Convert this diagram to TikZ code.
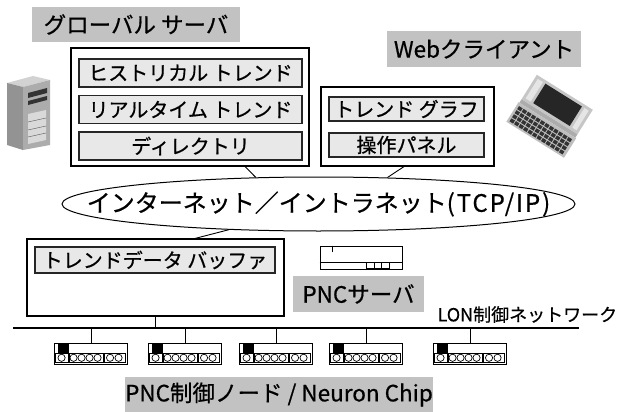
\documentclass[tikz,border=0pt]{standalone}
\usepackage{fontspec}
\setmainfont{Noto Sans CJK JP}[FakeBold=0.6]
\usepackage{xcolor}
\usepackage{tikz}
\usetikzlibrary{shapes.geometric}

\definecolor{taggray}{gray}{0.76}
\definecolor{entrygray}{gray}{0.91}

\newcommand{\tagfont}{\fontsize{22.5}{24}\selectfont}
\newcommand{\entryfont}{\fontsize{20}{22}\selectfont}
\newcommand{\netfont}{\fontsize{24}{26}\selectfont}
\newcommand{\busfont}{\fontsize{18}{20}\selectfont}

\begin{document}
\begin{tikzpicture}[
    x=1pt, y=-1pt,
    tag/.style={rectangle, fill=taggray, inner sep=0pt, minimum height=35pt, font=\tagfont},
    group/.style={rectangle, draw, line width=1.1pt, fill=white, inner sep=0pt},
    entry/.style={rectangle, draw=black!85, line width=1.3pt, fill=entrygray, inner sep=0pt, font=\entryfont},
    link/.style={line width=0.9pt},
    devbox/.style={rectangle, draw, line width=0.9pt, fill=white, minimum width=73pt, minimum height=21pt, inner sep=0pt}
]
    \useasboundingbox (0,0) rectangle (624,412);

    % global server
    \node[tag, minimum width=208pt] (gtag) at (136,24.5) {グローバル サーバ};
    \node[group, minimum width=238pt, minimum height=118pt] (gserver) at (190,107) {};
    \node[entry, minimum width=223pt, minimum height=28pt] (hist) at (190.5,73) {ヒストリカル トレンド};
    \node[entry, minimum width=223pt, minimum height=28pt] (rt) at (190.5,109.5) {リアルタイム トレンド};
    \node[entry, minimum width=223pt, minimum height=28pt] (dir) at (190.5,146) {ディレクトリ};

    % tower pc
    \fill[gray!35] (7,83) -- (33,76) -- (50,80) -- (23,87) -- cycle;
    \fill[gray!85] (7,83) -- (23,87) -- (23,150) -- (7,145) -- cycle;
    \fill[gray!65] (23,87) -- (50,80) -- (50,145) -- (23,150) -- cycle;
    \fill[black!80] (28,93) -- (47,88) -- (47,93) -- (28,98) -- cycle;
    \fill[black!80] (28,101) -- (47,96) -- (47,100) -- (28,105) -- cycle;
    \fill[gray!30] (28,114) -- (46,110) -- (46,140) -- (28,144) -- cycle;
    \draw[gray!70!black] (28,122) -- (46,118) (28,130) -- (46,126) (28,137) -- (46,133);

    % web client
    \node[tag, minimum width=194pt, minimum height=36pt] (wtag) at (484,49) {Webクライアント};
    \node[group, minimum width=173pt, minimum height=79pt] (wclient) at (407.5,126.5) {};
    \node[entry, minimum width=155pt, minimum height=24pt] (graph) at (406.5,109) {トレンド グラフ};
    \node[entry, minimum width=155pt, minimum height=24pt] (panel) at (406.5,145) {操作パネル};

    % laptop
    \begin{scope}[shift={(550,116)}, rotate=-32]
        \fill[gray!45] (-33,-28) rectangle (33,1);
        \fill[gray!20] (-30,-25) rectangle (-24,-2);
        \fill[gray!20] (25,-25) rectangle (30,-2);
        \fill[black!85] (-21,-25) rectangle (22,-2);
        \fill[gray!65] (-33,1) rectangle (33,5);
        \fill[gray!50] (-34,5) rectangle (34,28);
        \foreach \r in {0,...,3}
            \foreach \c in {0,...,11}
                \fill[black!80] (-31.5+\c*5.3,8+\r*4.8) rectangle ++(4.2,3.6);
    \end{scope}

    % network cloud
    \node[ellipse, draw, line width=1pt, minimum width=513pt, minimum height=54pt, inner sep=0pt] (inet) at (318.5,204) {};
    \node[font=\netfont] (inettext) at (inet.center) {インターネット／イントラネット{\addfontfeature{LetterSpace=8}(TCP/IP)}};

    \draw[link] ([xshift=55pt]gserver.south) -- (inet.157);
    \draw[link] ([xshift=-3.5pt]wclient.south) -- (inet.21);

    % pnc server
    \node[group, minimum width=257pt, minimum height=77pt] (buffer) at (155.5,277.5) {};
    \node[entry, minimum width=240pt, minimum height=26pt] (tbuf) at (155,260) {トレンドデータ バッファ};
    \draw[link] (inet.196) -- ([xshift=39.5pt]buffer.north);

    \node[draw, line width=1pt, minimum width=82pt, minimum height=23pt, inner sep=0pt] (pncdev) at (361,257.5) {};
    \begin{scope}[shift={(pncdev.north west)}]
        \draw[line width=0.8pt] (0,17) -- (82,17);
        \draw[line width=0.8pt] (47,17) rectangle (70,23) (54.7,17) -- (54.7,23) (62.3,17) -- (62.3,23);
        \draw[line width=1pt] (13,0) -- (13,6);
    \end{scope}
    \node[tag, minimum width=131pt, minimum height=36pt] (ptag) at (358.5,294) {PNCサーバ};

    % lon bus and control nodes
    \coordinate (busL) at (13,328);
    \coordinate (busR) at (579,328);
    \draw[line width=2pt] (busL) -- (busR);
    \node[font=\busfont, anchor=west] (lon) at (434,314.5) {LON制御ネットワーク};
    \draw[link] (buffer.south) -- (buffer.south |- busL);

    \foreach \n/\x in {n1/91, n2/185, n3/276, n4/366, n5/470} {
        \node[devbox] (\n) at (\x,353.5) {};
        \draw[link] (\n.north) -- (\n.north |- busL);
        \begin{scope}[shift={(\n.north west)}, line width=0.7pt]
            \fill (4,0) rectangle (15,10);
            \draw (1,10.5) rectangle (14,20) (15,10.5) rectangle (49,20) (50,10.5) rectangle (71,20);
            \foreach \cx in {7.5, 19.5, 27.5, 35.5, 43.5, 56, 64.5}
                \draw (\cx,15.25) circle (3.6);
        \end{scope}
    }

    \node[tag, minimum width=302pt] (ntag) at (279,394.5) {PNC制御ノード / Neuron Chip};
\end{tikzpicture}
\end{document}
